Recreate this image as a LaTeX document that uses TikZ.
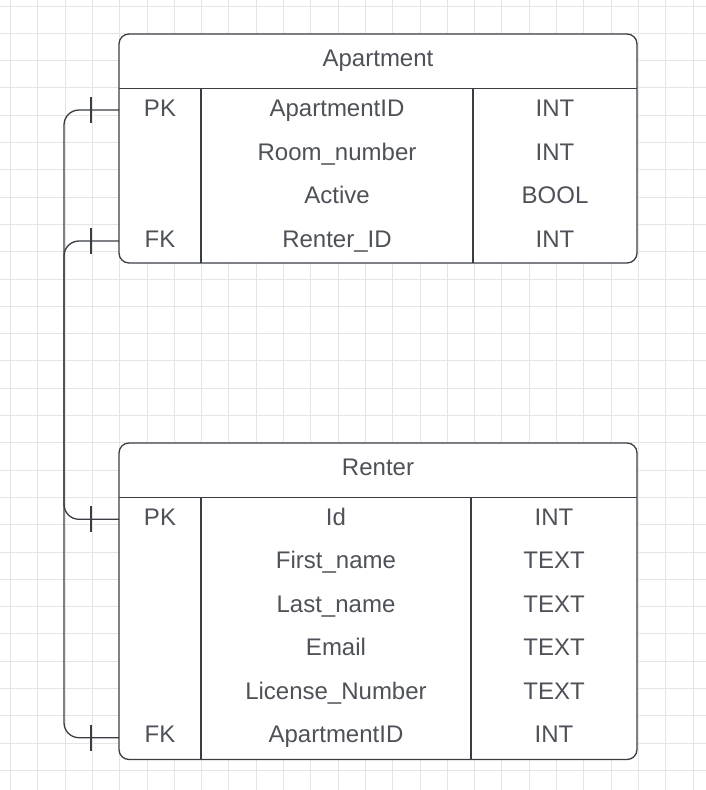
\documentclass[tikz,border=0pt]{standalone}
\usepackage{fontspec}
\setmainfont{Liberation Sans}
\definecolor{ln}{RGB}{58,62,68}
\definecolor{tx}{RGB}{78,82,88}
\definecolor{gr}{RGB}{229,229,229}
\tikzset{
  cell/.style={anchor=base, text=tx, font=\fontsize{24}{28}\selectfont, inner sep=0pt},
  frame/.style={draw=ln, line width=1.3pt, fill=white, rounded corners=10pt},
  rule/.style={draw=ln, line width=1.3pt},
  link/.style={draw=ln, line width=1.3pt, rounded corners=15pt},
  tick/.style={draw=ln, line width=1.3pt},
  gridline/.style={draw=gr, line width=1pt}
}
\begin{document}
\begin{tikzpicture}[x=1pt,y=-1pt]
\useasboundingbox (0,0) rectangle (706,790);
\fill[white] (0,0) rectangle (706,790);
% grid
\foreach \i in {0,...,25} \draw[gridline] ({10.5+27.3*\i},0) -- ({10.5+27.3*\i},790);
\foreach \j in {0,...,28} \draw[gridline] (0,{6+27.3*\j}) -- (706,{6+27.3*\j});

% Apartment table
\draw[frame] (119,34) rectangle (637,263);
\draw[rule] (119,88.5) -- (637,88.5);
\draw[rule] (201,88.5) -- (201,263);
\draw[rule] (473,88.5) -- (473,263);
\node[cell] (athead) at (378,66.7) {Apartment};
\node[cell] (a1k) at (160,116.7) {PK};
\node[cell] (a1n) at (337,116.7) {ApartmentID};
\node[cell] (a1t) at (555,116.7) {INT};
\node[cell] (a2n) at (337,160.2) {Room\_number};
\node[cell] (a2t) at (555,160.2) {INT};
\node[cell] (a3n) at (337,203.7) {Active};
\node[cell] (a3t) at (555,203.7) {BOOL};
\node[cell] (a4k) at (160,247.2) {FK};
\node[cell] (a4n) at (337,247.2) {Renter\_ID};
\node[cell] (a4t) at (555,247.2) {INT};

% Renter table
\draw[frame] (119,443) rectangle (637,759.5);
\draw[rule] (119,497.3) -- (637,497.3);
\draw[rule] (201,497.3) -- (201,759.5);
\draw[rule] (471,497.3) -- (471,759.5);
\node[cell] (rthead) at (378,475.7) {Renter};
\node[cell] (r1k) at (160,525) {PK};
\node[cell] (r1n) at (336,525) {Id};
\node[cell] (r1t) at (554,525) {INT};
\node[cell] (r2n) at (336,568.5) {First\_name};
\node[cell] (r2t) at (554,568.5) {TEXT};
\node[cell] (r3n) at (336,612) {Last\_name};
\node[cell] (r3t) at (554,612) {TEXT};
\node[cell] (r4n) at (336,655.5) {Email};
\node[cell] (r4t) at (554,655.5) {TEXT};
\node[cell] (r5n) at (336,699.2) {License\_Number};
\node[cell] (r5t) at (554,699.2) {TEXT};
\node[cell] (r6k) at (160,742.7) {FK};
\node[cell] (r6n) at (336,742.7) {ApartmentID};
\node[cell] (r6t) at (554,742.7) {INT};

% connector ends
\coordinate (apk) at (119,110);
\coordinate (afk) at (119,241);
\coordinate (rpk) at (119,519.3);
\coordinate (rfk) at (119,737.7);

\draw[link] (afk) -- ++(-55,0) |- (rpk);
\draw[link] (apk) -- ++(-55,0) |- (rfk);

\foreach \c in {apk,afk,rpk,rfk}
  \draw[tick] ([xshift=-28pt,yshift=13pt]\c) -- ([xshift=-28pt,yshift=-13pt]\c);
\end{tikzpicture}
\end{document}
